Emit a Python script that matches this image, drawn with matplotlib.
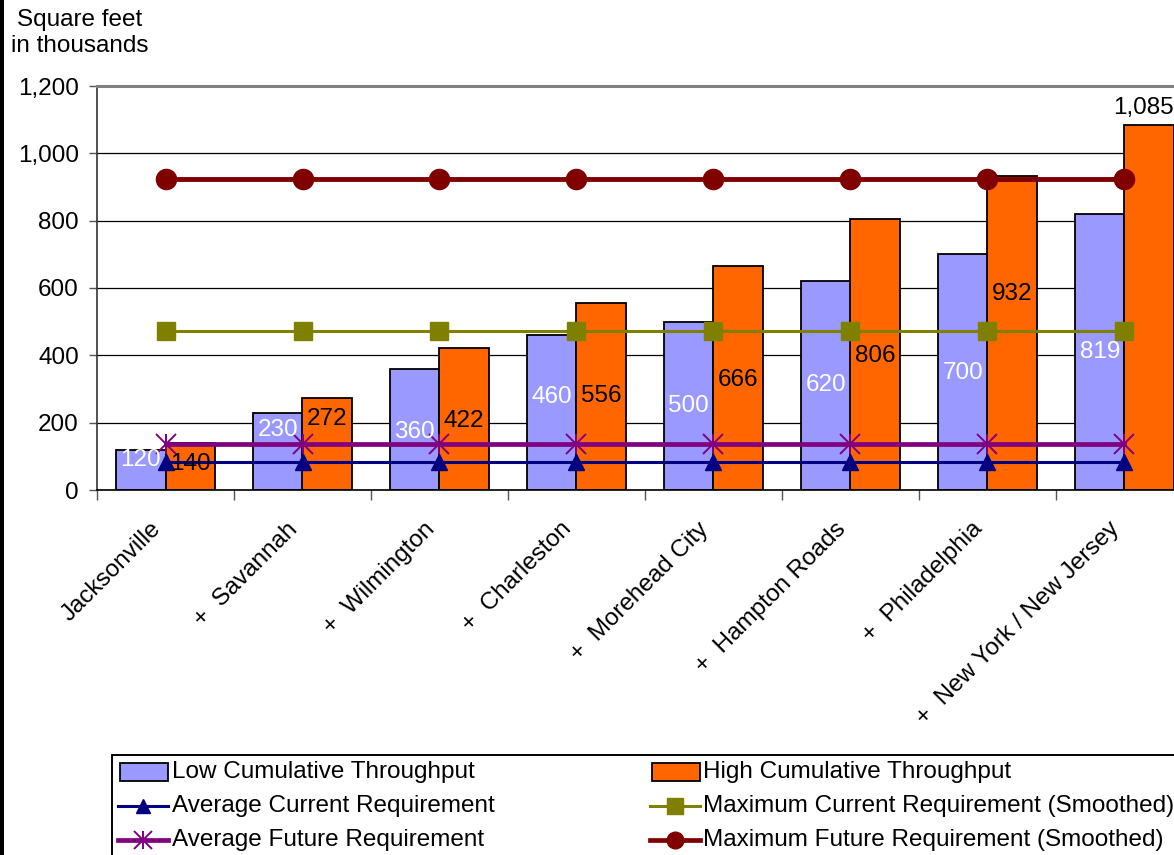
import matplotlib
matplotlib.use("Agg")
import matplotlib.pyplot as plt
import matplotlib.transforms as mtransforms
from matplotlib.patches import Rectangle
from matplotlib.lines import Line2D
import numpy as np

plt.rcParams['font.family'] = ['Liberation Sans', 'DejaVu Sans']

# ---- data -------------------------------------------------------------
ports = ["Jacksonville", "+  Savannah", "+  Wilmington", "+  Charleston",
         "+  Morehead City", "+  Hampton Roads", "+  Philadelphia",
         "+  New York / New Jersey"]
low_throughput = [120, 230, 360, 460, 500, 620, 700, 819]
high_throughput = [140, 272, 422, 556, 666, 806, 932, 1085]
avg_current_req = [84] * 8
max_current_req = [472] * 8
avg_future_req = [137] * 8
max_future_req = [925] * 8

# vertical placement of the value labels (data units)
low_label_y = [89, 178, 172, 276, 250, 312, 348, 410]
high_label_y = [77, 211, 205, 279, 327, 398, 582, 1134]

y_ticks = [0, 200, 400, 600, 800, 1000, 1200]

FS = 17.5

# ---- figure -----------------------------------------------------------
W, H = 1174, 855
fig = plt.figure(figsize=(W / 100, H / 100), dpi=100)
fig.patch.set_facecolor("white")

def fx(px):
    return px / W

def fy(py):
    return 1 - py / H

ax = fig.add_axes([fx(97), fy(490), 1096 / W, 404 / H])
ax.set_facecolor("white")

x = np.arange(len(ports))
bw = 0.36
ax.bar(x - bw / 2, low_throughput, width=bw, color="#9999FF",
       edgecolor="black", linewidth=1.3, zorder=2)
ax.bar(x + bw / 2, high_throughput, width=bw, color="#FF6600",
       edgecolor="black", linewidth=1.3, zorder=2)

ax.plot(x, avg_current_req, color="#000080", lw=2.2, marker="^",
        markersize=11, markeredgecolor="#000080", zorder=4)
ax.plot(x, max_current_req, color="#808000", lw=2.2, marker="s",
        markersize=12.5, markeredgecolor="#808000", zorder=4)
ax.plot(x, avg_future_req, color="#800080", lw=3.4, marker="x",
        markersize=15, markeredgewidth=1.4, zorder=4)
ax.plot(x, avg_future_req, color="#800080", lw=0, marker="|",
        markersize=15, markeredgewidth=1.4, zorder=4)
ax.plot(x, max_future_req, color="#800000", lw=3.5, marker="o",
        markersize=14.5, markeredgecolor="#800000", zorder=4)

# value labels
for i in range(len(ports)):
    ax.text(x[i] - bw / 2, low_label_y[i], f"{low_throughput[i]:,}",
            color="white", fontsize=FS, ha="center", va="center", zorder=5)
    if high_label_y[i] > high_throughput[i]:
        # label sits above the bar, kept flush with its right edge
        ax.text(x[i] + bw, high_label_y[i], f"{high_throughput[i]:,}",
                color="black", fontsize=FS, ha="right", va="center", zorder=5)
    else:
        ax.text(x[i] + bw / 2, high_label_y[i], f"{high_throughput[i]:,}",
                color="black", fontsize=FS, ha="center", va="center", zorder=5)

# axes styling
ax.set_xlim(-0.5, len(ports) - 0.5)
ax.set_ylim(0, 1200)
ax.set_yticks(y_ticks)
ax.set_yticklabels([f"{v:,}" for v in y_ticks], fontsize=FS)
ax.yaxis.grid(True, color="black", linewidth=0.9)
ax.set_axisbelow(True)
ax.tick_params(axis="y", direction="out", length=6, width=1,
               color="#555555", pad=7)
ax.set_xticks(np.arange(len(ports) + 1) - 0.5)
ax.set_xticklabels([])
ax.tick_params(axis="x", direction="out", length=7, width=1, color="#555555")
ax.spines["right"].set_visible(False)
ax.spines["top"].set_color("#808080")
ax.spines["top"].set_linewidth(2.2)
ax.spines["left"].set_color("#333333")
ax.spines["left"].set_linewidth(1.2)
ax.spines["bottom"].set_color("black")
ax.spines["bottom"].set_linewidth(1.2)

# rotated category labels
for i, name in enumerate(ports):
    off = mtransforms.ScaledTranslation(-16 / 100, -28 / 100, fig.dpi_scale_trans)
    ax.text(x[i], 0, name, transform=ax.get_xaxis_transform() + off,
            rotation=45, rotation_mode="anchor", ha="right", va="top",
            fontsize=FS)

# axis title
fig.text(fx(80), fy(9), "Square feet\nin thousands", ha="center", va="top",
         fontsize=FS, multialignment="center", linespacing=1.25)

# left edge strip
fig.patches.append(Rectangle((0, 0), fx(4), 1, transform=fig.transFigure,
                             facecolor="black", edgecolor="none"))

# legend box
fig.patches.append(Rectangle((fx(112), -0.02), 1.0, fy(755) + 0.02,
                             transform=fig.transFigure, facecolor="white",
                             edgecolor="black", linewidth=1.4))

rows = [772, 806, 840]
legend_cols = [
    (118, 172, [("patch", "#9999FF", None, "Low Cumulative Throughput"),
                ("line", "#000080", "^", "Average Current Requirement"),
                ("line", "#800080", "*", "Average Future Requirement")]),
    (650, 703, [("patch", "#FF6600", None, "High Cumulative Throughput"),
                ("line", "#808000", "s", "Maximum Current Requirement (Smoothed)"),
                ("line", "#800000", "o", "Maximum Future Requirement (Smoothed)")]),
]
for hx, tx, entries in legend_cols:
    for ry, (kind, col, mk, label) in zip(rows, entries):
        if kind == "patch":
            fig.patches.append(Rectangle((fx(hx + 2), fy(ry + 9)), 48 / W, 18 / H,
                                         transform=fig.transFigure,
                                         facecolor=col, edgecolor="black",
                                         linewidth=1.3))
        else:
            lw = 3.4 if col in ("#800080", "#800000") else 2.2
            xs = [fx(hx), fx(hx + 50)]
            ys = [fy(ry), fy(ry)]
            fig.lines.append(Line2D(xs, ys, color=col, lw=lw,
                                    transform=fig.transFigure))
            mx, my = [fx(hx + 25)], [fy(ry)]
            if mk == "*":
                fig.lines.append(Line2D(mx, my, color=col, lw=0, marker="x",
                                        markersize=13, markeredgewidth=1.4,
                                        transform=fig.transFigure))
                fig.lines.append(Line2D(mx, my, color=col, lw=0, marker="|",
                                        markersize=13, markeredgewidth=1.4,
                                        transform=fig.transFigure))
            else:
                size = {"^": 10, "s": 11, "o": 12}[mk]
                fig.lines.append(Line2D(mx, my, color=col, lw=0, marker=mk,
                                        markersize=size, markeredgecolor=col,
                                        transform=fig.transFigure))
        fig.text(fx(tx), fy(ry), label, ha="left", va="center", fontsize=FS)

fig.savefig("out.png", dpi=100)
